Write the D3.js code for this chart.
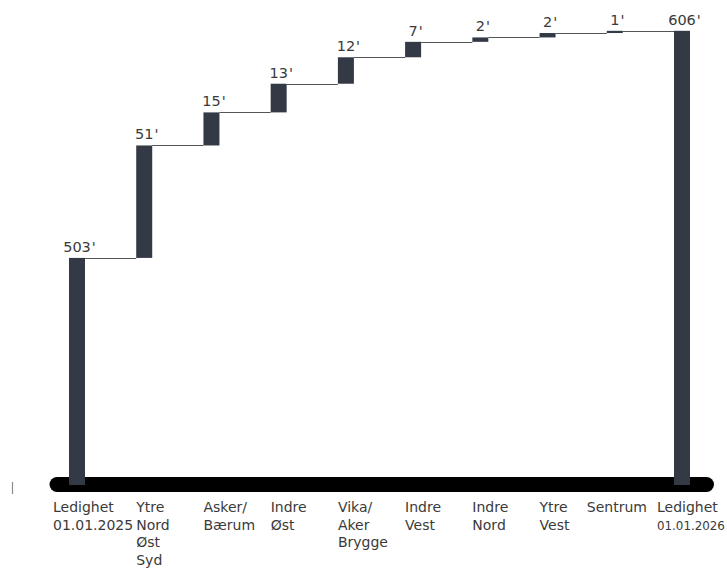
<!DOCTYPE html>
<html>
<head>
<meta charset="utf-8">
<script src="https://cdn.jsdelivr.net/npm/d3@7"></script>
<style>
  html, body { margin: 0; padding: 0; background: #fff; }
  svg { display: block; }
  text { font-family: "DejaVu Sans", sans-serif; }
</style>
</head>
<body>
<svg id="chart" width="727" height="569"></svg>
<script>
// ---- data ----
const categories = [
  "Ledighet\n01.01.2025",
  "Ytre\nNord\nØst\nSyd",
  "Asker/\nBærum",
  "Indre\nØst",
  "Vika/\nAker\nBrygge",
  "Indre\nVest",
  "Indre\nNord",
  "Ytre\nVest",
  "Sentrum",
  "Ledighet\n01.01.2026"
];
const values = [503, 51, 15, 13, 12, 7, 2, 2, 1, 606];
const isTotal = [true, false, false, false, false, false, false, false, false, true];
const valueLabels = ["503'", "51'", "15'", "13'", "12'", "7'", "2'", "2'", "1'", "606'"];
const yDomain = [400, 610];

// ---- build waterfall segments ----
let running = 0;
const segs = values.map((v, i) => {
  let start, end;
  if (isTotal[i]) { start = yDomain[0]; end = v; running = v; }
  else { start = running; end = running + v; running = end; }
  return { i, cat: categories[i], start, end, label: valueLabels[i] };
});

const svg = d3.select("#chart");
const barW = 16;
const x = d3.scalePoint().domain(d3.range(categories.length)).range([77, 682]);
const y = d3.scaleLinear().domain(yDomain).range([485, 22]);

const barColor = "#333a45";
const textColor = "#3a3a3a";

// small y-axis remnant tick
svg.append("line")
  .attr("x1", 12.5).attr("x2", 12.5).attr("y1", 482).attr("y2", 494)
  .attr("stroke", "#8a8a8a").attr("stroke-width", 1.2);

// thick baseline (x-axis domain)
svg.append("line")
  .attr("x1", 57).attr("x2", 706.5)
  .attr("y1", 484.5).attr("y2", 484.5)
  .attr("stroke", "#000").attr("stroke-width", 15)
  .attr("stroke-linecap", "round");

// connectors
svg.append("g").selectAll("line")
  .data(segs.slice(0, -1))
  .join("line")
  .attr("x1", d => x(d.i) + barW / 2)
  .attr("x2", d => x(d.i + 1) - barW / 2)
  .attr("y1", d => Math.round(y(d.end)) + 0.5)
  .attr("y2", d => Math.round(y(d.end)) + 0.5)
  .attr("stroke", "#555")
  .attr("stroke-width", 1);

// bars
svg.append("g").selectAll("rect")
  .data(segs)
  .join("rect")
  .attr("x", d => x(d.i) - barW / 2)
  .attr("width", barW)
  .attr("y", d => y(Math.max(d.start, d.end)))
  .attr("height", d => Math.abs(y(d.start) - y(d.end)))
  .attr("fill", barColor);

// value labels: number centred on bar, apostrophe appended
const vl = svg.append("g").selectAll("g")
  .data(segs)
  .join("g");
vl.each(function(d) {
  const g = d3.select(this);
  const num = d.label.replace("'", "");
  const t = g.append("text")
    .attr("font-size", 14.5)
    .attr("fill", textColor)
    .attr("y", y(Math.max(d.start, d.end)) - 6)
    .text(num);
  const w = t.node().getComputedTextLength();
  t.attr("x", x(d.i) - w / 2);
  g.append("text")
    .attr("font-size", 14.5)
    .attr("fill", textColor)
    .attr("x", x(d.i) + w / 2 + 1)
    .attr("y", y(Math.max(d.start, d.end)) - 6)
    .text("'");
});

// category labels (left-aligned, multi-line)
const labelShift = { 0: -16, 8: -20, 9: -17 };
const maxRight = 725;
const baseSize = 14;
const cl = svg.append("g").selectAll("text")
  .data(segs)
  .join("text")
  .attr("font-size", baseSize)
  .attr("fill", textColor)
  .attr("y", 512);
cl.each(function(d) {
  const t = d3.select(this);
  const bx = x(d.i) - barW / 2 + (labelShift[d.i] || 0);
  d.cat.split("\n").forEach((line, k) => {
    const ts = t.append("tspan").attr("x", bx).attr("dy", k === 0 ? 0 : 17.7).text(line);
    const w = ts.node().getComputedTextLength();
    if (bx + w > maxRight) {
      ts.attr("font-size", (baseSize * (maxRight - bx) / w).toFixed(2));
    }
  });
});
</script>
</body>
</html>
